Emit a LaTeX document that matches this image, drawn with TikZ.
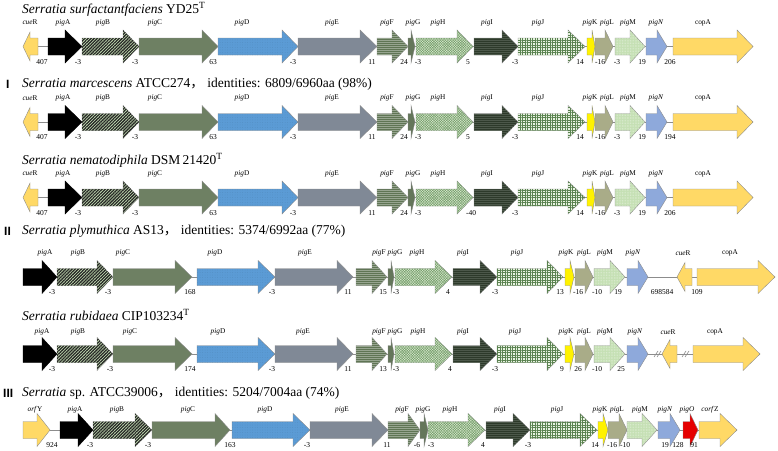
\documentclass[tikz,border=0pt]{standalone}
\usepackage{fontspec}
\setmainfont{Liberation Serif}
\newfontfamily\cjk{Noto Sans CJK SC}
\newfontfamily\sansf{Liberation Sans}
\usetikzlibrary{patterns.meta}
\definecolor{cyel}{RGB}{255,217,102}
\definecolor{lgreen}{RGB}{197,224,180}
\definecolor{cgc}{RGB}{110,128,99}
\definecolor{cblue}{RGB}{91,155,213}
\definecolor{cgray}{RGB}{128,137,150}
\definecolor{cF}{RGB}{95,117,84}
\definecolor{cG}{RGB}{100,118,90}
\definecolor{cH}{RGB}{120,160,110}
\definecolor{cI}{RGB}{45,58,42}
\definecolor{cJ}{RGB}{90,130,80}
\definecolor{cL}{RGB}{169,172,136}
\definecolor{cN}{RGB}{142,169,219}
\def\bh{8.5}
\def\hh{16.5}
\newcommand\pg[1]{\textit{pig}#1}
\newcommand\gR[5]{\path[#5] (#2,{#1-\bh}) -- (#3,{#1-\bh}) -- (#3,{#1-\hh}) -- (#4,#1) -- (#3,{#1+\hh}) -- (#3,{#1+\bh}) -- (#2,{#1+\bh}) -- cycle;}
\newcommand\gL[5]{\path[#5] (#4,{#1-\bh}) -- (#3,{#1-\bh}) -- (#3,{#1-14.5}) -- (#2,#1) -- (#3,{#1+14.5}) -- (#3,{#1+\bh}) -- (#4,{#1+\bh}) -- cycle;}
\newcommand\labs[3]{\foreach \x/\t in {#3} \node[glab] (l#1-\x) at (\x,#2) {\t};}
\newcommand\nums[3]{\foreach \x/\t in {#3} \node[num] (n#1-\x) at (\x,#2) {\t};}
\newcommand\rowI[1]{%
 \draw[bb] (23,#1) -- (753,#1);
 \gL{#1}{23}{30}{38}{yel}
 \gR{#1}{48}{65}{82}{pA}
 \gR{#1}{82}{123}{139}{pB}
 \gR{#1}{139}{202}{218}{pC}
 \gR{#1}{218}{282}{298}{pD}
 \gR{#1}{298}{360}{377}{pE}
 \gR{#1}{377}{392}{408}{pF}
 \gR{#1}{408}{411}{415}{pG}
 \gR{#1}{416}{457}{473}{pH}
 \gR{#1}{474}{502}{518}{pI}
 \gR{#1}{518}{568}{585}{pJ}
 \gR{#1}{587}{592}{595}{pK}
 \gR{#1}{595}{605}{613}{pL}
 \gR{#1}{615}{630}{645}{pM}
 \gR{#1}{646}{657}{667}{pN}
 \gR{#1}{673}{737}{753}{yel}
}
\newcommand\rowII[1]{%
 \gR{#1}{23}{42}{57}{pA}
 \gR{#1}{57}{97}{113}{pB}
 \gR{#1}{113}{175}{192}{pC}
 \gR{#1}{197}{258}{275}{pD}
 \gR{#1}{275}{337}{353}{pE}
 \gR{#1}{356}{372}{387}{pF}
 \gR{#1}{388}{391}{394}{pG}
 \gR{#1}{395}{435}{452}{pH}
 \gR{#1}{453}{480}{497}{pI}
 \gR{#1}{497}{547}{563}{pJ}
 \gR{#1}{565}{570}{574}{pK}
 \gR{#1}{575}{585}{593}{pL}
 \gR{#1}{594}{610}{625}{pM}
 \gR{#1}{627}{638}{648}{pN}
}
\newcommand\rowlabs[2]{\labs{#1}{#2}{30/{\textit{cue}R},63/{\pg A},103/{\pg B},155/{\pg C},242/{\pg D},332/{\pg E},387/{\pg F},413/{\pg G},438/{\pg H},487/{\pg I},538/{\pg J},590/{\pg K},607/{\pg L},628/{\pg M},656/{\textit{pigN}},703/{copA}}}
\begin{document}
\begin{tikzpicture}[x=1pt,y=-1pt,
 g/.style={draw=black!45, line width=0.4pt},
 bb/.style={draw=black!45, line width=0.6pt},
 yel/.style={g, fill=cyel},
 pA/.style={draw=black, fill=black},
 pB/.style={g, fill=lgreen, postaction={pattern={Lines[angle=45,distance=2.2pt,line width=1.3pt]}, pattern color=black!85}},
 pC/.style={g, fill=cgc},
 pD/.style={g, fill=cblue, postaction={pattern={Dots[radius=0.25pt,distance=2.5pt]}, pattern color=cblue!80!black}},
 pE/.style={g, fill=cgray},
 pF/.style={g, fill=cF, postaction={pattern={Lines[angle=0,distance=2pt,line width=0.5pt]}, pattern color=cF!65!white}},
 pG/.style={g, fill=cG},
 pH/.style={g, fill=lgreen!60!white, postaction={pattern={Hatch[angle=45,distance=1.8pt,line width=0.5pt]}, pattern color=cH}},
 pI/.style={g, fill=cI, postaction={pattern={Lines[angle=0,distance=2pt,line width=0.4pt]}, pattern color=cI!85!white}},
 pJ/.style={g, fill=lgreen!40!white, postaction={pattern={Hatch[angle=0,distance=2.5pt,line width=0.5pt]}, pattern color=cJ}},
 pK/.style={g, fill=yellow},
 pL/.style={g, fill=cL},
 pM/.style={g, fill=lgreen, postaction={pattern={Dots[radius=0.35pt,distance=1.6pt]}, pattern color=white!60!lgreen}},
 pN/.style={g, fill=cN},
 pO/.style={g, fill=red!90!black},
 glab/.style={inner sep=0, font=\fontsize{7.3}{8}\selectfont},
 num/.style={inner sep=0, font=\fontsize{7.5}{8}\selectfont},
 ttl/.style={anchor=west, inner sep=0, font=\fontsize{13.5}{15}\selectfont},
 rn/.style={anchor=west, inner sep=0, font=\sansf\bfseries\fontsize{12}{14}\selectfont}]
\useasboundingbox (0,0) rectangle (778,450);
% ---------- row 1
\node[ttl] (t1) at (22,9) {\textit{Serratia surfactantfaciens} YD25\textsuperscript{T}};
\rowlabs{1}{22.5}
\rowI{46.5}
\nums{1}{62}{42/407,78/-3,135/-3,213/63,293/-3,372/11,404/24,418/-3,468/5,515/-3,580/14,600/-16,617/-3,642/19,670/206}
% ---------- row 2
\node[rn] (r1) at (6,84) {I};
\node[ttl] (t2) at (22,84) {\textit{Serratia marcescens} ATCC274{\cjk ，}\ identities: 6809/6960aa (98\%)};
\rowlabs{2}{98}
\rowI{122}
\nums{2}{137.5}{42/407,78/-3,135/-3,213/63,293/-3,372/11,404/24,418/-3,468/5,515/-3,580/14,600/-16,617/-3,642/19,670/194}
% ---------- row 3
\node[ttl] (t3) at (22,160) {\textit{Serratia nematodiphila} DSM\,21420\textsuperscript{T}};
\rowlabs{3}{173.5}
\rowI{197.5}
\nums{3}{213}{42/407,78/-3,135/-3,213/63,293/-3,372/11,404/24,418/-3,471/-40,515/-3,580/14,600/-16,617/-3,642/19,670/206}
% ---------- row 4
\node[rn] (r2) at (4,231) {II};
\node[ttl] (t4) at (22,231) {\textit{Serratia plymuthica} AS13{\cjk ，}\ identities: 5374/6992aa (77\%)};
\labs{4}{253}{45/{\pg A},78/{\pg B},123/{\pg C},215/{\pg D},305/{\pg E},379/{\pg F},395/{\pg G},417/{\pg H},463/{\pg I},517/{\pg J},566/{\pg K},584/{\pg L},605/{\pg M},633/{\textit{pigN}},683/{\textit{cue}R},730/{copA}}
\draw[bb] (23,277) -- (775,277);
\rowII{277}
\gL{277}{677}{685}{692}{yel}
\gR{277}{697}{758}{775}{yel}
\nums{4}{292.5}{52/-3,108/-3,190/168,272/-3,348/11,383/15,396/-3,448/4,495/-3,560/13,578/-16,597/-10,618/19,662/698584,697/109}
% ---------- row 5
\node[ttl] (t5) at (22,315) {\textit{Serratia rubidaea} CIP103234\textsuperscript{T}};
\labs{5}{332}{42/{\pg A},78/{\pg B},130/{\pg C},218/{\pg D},303/{\pg E},379/{\pg F},395/{\pg G},418/{\pg H},463/{\pg I},515/{\pg J},566/{\pg K},584/{\pg L},605/{\pg M},635/{\textit{pigN}},668/{\textit{cue}R},715/{copA}}
\draw[bb] (23,354) -- (760,354);
\rowII{354}
\gL{354}{662}{670}{677}{yel}
\gR{354}{693}{743}{760}{yel}
\draw[bb] (654,357) -- (658,351) (657,357) -- (661,351);
\draw[bb] (682,357) -- (686,351) (685,357) -- (689,351);
\nums{5}{369}{52/-3,110/-3,190/174,272/-3,348/11,383/13,396/-3,450/4,495/-3,562/9,578/26,597/-10,621/25}
% ---------- row 6
\node[rn] (r3) at (3,393) {III};
\node[ttl] (t6) at (22,393) {\textit{Serratia} sp. ATCC39006{\cjk ，}\ identities: 5204/7004aa (74\%)};
\labs{6}{410}{35/{\textit{orf}Y},75/{\pg A},117/{\pg B},188/{\pg C},265/{\pg D},342/{\pg E},402/{\pg F},423/{\pg G},450/{\pg H},500/{\pg I},557/{\pg J},600/{\pg K},617/{\pg L},640/{\pg M},665/{\textit{pigN}},687/{\textit{pigO}},710/{\textit{corf}Z}}
\draw[bb] (23,430) -- (737,430);
\gR{430}{23}{37}{50}{yel}
\gR{430}{60}{78}{93}{pA}
\gR{430}{93}{135}{152}{pB}
\gR{430}{152}{215}{230}{pC}
\gR{430}{232}{293}{310}{pD}
\gR{430}{310}{372}{388}{pE}
\gR{430}{388}{408}{420}{pF}
\gR{430}{420}{424}{428}{pG}
\gR{430}{428}{468}{485}{pH}
\gR{430}{486}{513}{530}{pI}
\gR{430}{530}{580}{597}{pJ}
\gR{430}{598}{603}{608}{pK}
\gR{430}{608}{619}{627}{pL}
\gR{430}{627}{642}{657}{pM}
\gR{430}{658}{670}{680}{pN}
\gR{430}{683}{690}{698}{pO}
\gR{430}{699}{720}{737}{yel}
\nums{6}{445}{52/924,90/-3,148/-3,230/163,307/-3,387/11,417/-6,431/-3,483/4,528/-3,595/14,612/-16,625/-10,665/19,678/128,694/91}
\end{tikzpicture}
\end{document}
